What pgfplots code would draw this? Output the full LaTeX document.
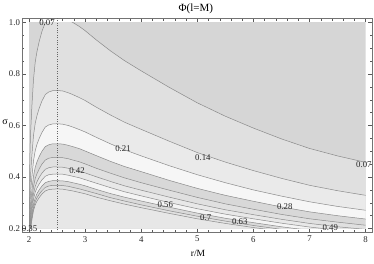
\documentclass[border=0pt]{standalone}
\usepackage{pgfplots}
\pgfplotsset{compat=1.18}
\usepackage{pgfplotstable}
\usepackage{fontspec}
\setmainfont{Liberation Serif}
\definecolor{c0}{HTML}{D6D6D6}
\definecolor{c1}{HTML}{E0E0E0}
\definecolor{c2}{HTML}{EAEAEA}
\definecolor{c3}{HTML}{F6F6F6}
\definecolor{c4}{HTML}{D8D8D8}
\definecolor{c5}{HTML}{E0E0E0}
\definecolor{c6}{HTML}{E8E8E8}
\definecolor{c7}{HTML}{F4F4F4}
\definecolor{c8}{HTML}{DADADA}
\definecolor{c9}{HTML}{E1E1E1}
\definecolor{c10}{HTML}{E7E7E7}
\definecolor{clinecol}{HTML}{8A8A8A}
\tikzset{
  contline/.style={draw=clinecol, line width=0.5bp},
  clbl/.style={font=\fontsize{8.8bp}{10bp}\selectfont, inner sep=0pt, text=black!85},
}

\pgfplotstableread{
r     s07   s14   s21   s28   s35   s42   s49   s56   s63   s70
2.000 0.000 0.000 0.000 0.000 0.000 0.000 0.000 0.000 0.000 0.000
2.003 0.250 0.180 0.149 0.130 0.117 0.108 0.101 0.095 0.090 0.087
2.006 0.340 0.245 0.202 0.176 0.158 0.146 0.137 0.129 0.122 0.118
2.010 0.420 0.302 0.249 0.218 0.196 0.181 0.169 0.159 0.151 0.145
2.020 0.520 0.374 0.309 0.269 0.242 0.224 0.210 0.197 0.187 0.180
2.030 0.580 0.418 0.345 0.300 0.270 0.249 0.234 0.219 0.209 0.201
2.050 0.670 0.482 0.398 0.347 0.312 0.288 0.270 0.253 0.241 0.232
2.080 0.780 0.562 0.463 0.404 0.363 0.335 0.314 0.295 0.281 0.270
2.110 0.845 0.608 0.502 0.438 0.394 0.363 0.341 0.319 0.304 0.292
2.140 0.885 0.637 0.526 0.458 0.412 0.381 0.357 0.335 0.319 0.306
2.180 0.925 0.666 0.549 0.479 0.431 0.398 0.373 0.350 0.333 0.320
2.230 0.965 0.695 0.573 0.500 0.450 0.415 0.389 0.365 0.347 0.334
2.290 1.000 0.720 0.594 0.518 0.466 0.430 0.403 0.378 0.360 0.346
2.350 1.014 0.730 0.602 0.525 0.473 0.436 0.409 0.383 0.365 0.351
2.420 1.021 0.735 0.606 0.529 0.476 0.439 0.411 0.386 0.368 0.353
2.500 1.022 0.736 0.607 0.529 0.476 0.439 0.412 0.386 0.368 0.354
2.600 1.019 0.734 0.605 0.528 0.475 0.438 0.411 0.385 0.367 0.353
2.700 1.010 0.727 0.600 0.523 0.471 0.434 0.407 0.382 0.364 0.349
2.780 1.000 0.720 0.594 0.518 0.466 0.430 0.403 0.378 0.360 0.346
2.900 0.984 0.708 0.584 0.510 0.459 0.423 0.397 0.372 0.354 0.340
3.000 0.968 0.697 0.575 0.501 0.451 0.416 0.390 0.366 0.348 0.335
3.200 0.932 0.671 0.554 0.483 0.434 0.401 0.376 0.352 0.336 0.322
3.450 0.890 0.641 0.529 0.461 0.415 0.383 0.359 0.336 0.320 0.308
3.700 0.852 0.613 0.506 0.441 0.397 0.366 0.343 0.322 0.307 0.295
4.000 0.812 0.585 0.482 0.421 0.378 0.349 0.327 0.307 0.292 0.281
4.500 0.748 0.539 0.444 0.387 0.349 0.322 0.301 0.283 0.269 0.259
5.000 0.688 0.495 0.409 0.356 0.321 0.296 0.277 0.260 0.248 0.238
5.500 0.636 0.458 0.378 0.329 0.296 0.273 0.256 0.240 0.229 0.220
6.000 0.590 0.425 0.350 0.306 0.275 0.254 0.238 0.223 0.212 0.204
6.500 0.548 0.395 0.326 0.284 0.255 0.236 0.221 0.207 0.197 0.190
7.000 0.511 0.368 0.304 0.265 0.238 0.220 0.206 0.193 0.184 0.177
7.500 0.482 0.347 0.286 0.250 0.225 0.207 0.194 0.182 0.174 0.167
8.000 0.457 0.329 0.271 0.237 0.213 0.197 0.184 0.173 0.165 0.158
}\contours

\begin{document}
\begin{tikzpicture}
\path[use as bounding box] (0,0) rectangle (374bp,264bp);
% data region
\begin{axis}[
  at={(29.03bp,35.42bp)}, anchor=south west, scale only axis,
  width=336.55bp, height=206.15bp,
  xmin=2, xmax=8, ymin=0.2, ymax=1, hide axis,
]
\addplot[fill=c0, draw=none] coordinates {(2,0.2) (8,0.2) (8,1) (2,1)} -- cycle;
\addplot[fill=c1, draw=none] table[x=r,y=s07] {\contours} \closedcycle;
\addplot[fill=c2, draw=none] table[x=r,y=s14] {\contours} \closedcycle;
\addplot[fill=c3, draw=none] table[x=r,y=s21] {\contours} \closedcycle;
\addplot[fill=c4, draw=none] table[x=r,y=s28] {\contours} \closedcycle;
\addplot[fill=c5, draw=none] table[x=r,y=s35] {\contours} \closedcycle;
\addplot[fill=c6, draw=none] table[x=r,y=s42] {\contours} \closedcycle;
\addplot[fill=c7, draw=none] table[x=r,y=s49] {\contours} \closedcycle;
\addplot[fill=c8, draw=none] table[x=r,y=s56] {\contours} \closedcycle;
\addplot[fill=c9, draw=none] table[x=r,y=s63] {\contours} \closedcycle;
\addplot[fill=c10, draw=none] table[x=r,y=s70] {\contours} \closedcycle;
\addplot[contline, no markers] table[x=r,y=s07] {\contours};
\addplot[contline, no markers] table[x=r,y=s14] {\contours};
\addplot[contline, no markers] table[x=r,y=s21] {\contours};
\addplot[contline, no markers] table[x=r,y=s28] {\contours};
\addplot[contline, no markers] table[x=r,y=s35] {\contours};
\addplot[contline, no markers] table[x=r,y=s42] {\contours};
\addplot[contline, no markers] table[x=r,y=s49] {\contours};
\addplot[contline, no markers] table[x=r,y=s56] {\contours};
\addplot[contline, no markers] table[x=r,y=s63] {\contours};
\addplot[contline, no markers] table[x=r,y=s70] {\contours};
\end{axis}
% frame, ticks, labels
\begin{axis}[
  at={(22.3bp,31.3bp)}, anchor=south west, scale only axis,
  width=350bp, height=214.4bp,
  xmin=1.88, xmax=8.12, ymin=0.184, ymax=1.016,
  clip=false,
  axis line style={black!55, line width=0.5bp},
  tick style={black!65, line width=0.4bp},
  major tick length=4bp, minor tick length=2.2bp, tick align=inside,
  xtick={2,3,4,5,6,7,8}, minor x tick num=4,
  ytick={0.2,0.4,0.6,0.8,1.0}, yticklabels={0.2,0.4,0.6,0.8,1.0},
  minor y tick num=3,
  /pgf/number format/assume math mode=true,
  ticklabel style={font=\fontsize{8.8bp}{10bp}\selectfont, text=black!85},
  yticklabel style={xshift=1.2bp},
]
\addplot[black!60, line width=0.5bp, dash pattern=on 1bp off 1.4bp] coordinates {(2.5,0.184) (2.5,1.016)};
\node[clbl] at (axis cs:2.32,1.0) {0.07};
\node[clbl] at (axis cs:7.97,0.449) {0.07};
\node[clbl] at (axis cs:5.10,0.477) {0.14};
\node[clbl] at (axis cs:3.675,0.511) {0.21};
\node[clbl] at (axis cs:6.56,0.284) {0.28};
\node[clbl] at (axis cs:2.855,0.426) {0.42};
\node[clbl] at (axis cs:4.43,0.292) {0.56};
\node[clbl] at (axis cs:5.15,0.242) {0.7};
\node[clbl] at (axis cs:5.756,0.228) {0.63};
\node[clbl] at (axis cs:7.37,0.203) {0.49};
\node[clbl] at (axis cs:2.01,0.198) {0.35};
\node[font=\fontsize{11bp}{12bp}\selectfont] at (rel axis cs:0.496,1.043) {Φ(l=M)};
\node[font=\fontsize{9.5bp}{11bp}\selectfont] at (rel axis cs:0.502,-0.095) {r/M};
\node[font=\fontsize{10bp}{11bp}\selectfont] at (rel axis cs:-0.049,0.516) {σ};
\end{axis}
\end{tikzpicture}
\end{document}
